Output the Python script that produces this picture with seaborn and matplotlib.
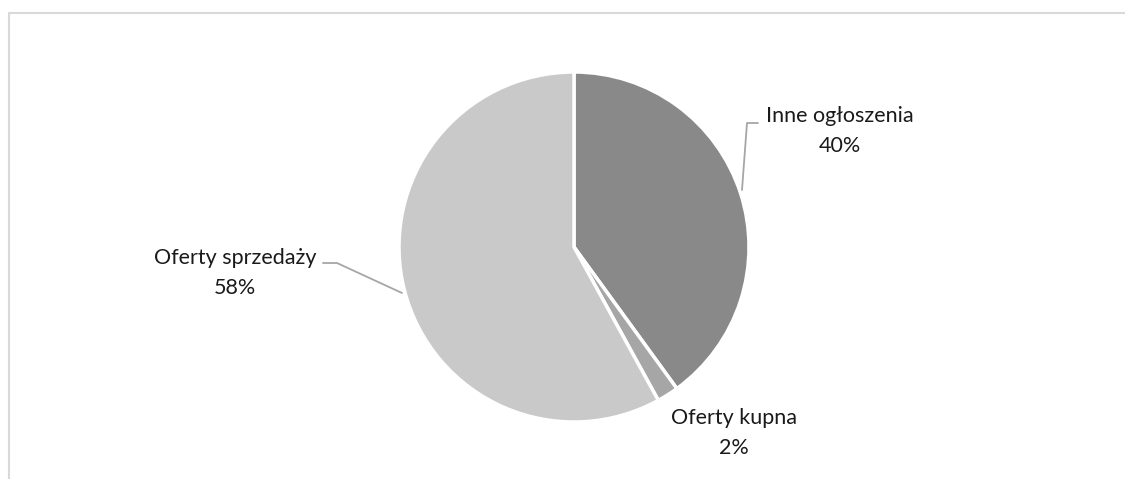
import matplotlib
matplotlib.use("Agg")
import matplotlib.pyplot as plt
from matplotlib.lines import Line2D
import seaborn as sns

categories = ["Inne ogłoszenia", "Oferty kupna", "Oferty sprzedaży"]
shares = [40, 2, 58]
colors = ["#898989", "#a6a6a6", "#c9c9c9"]

sns.set_theme(style="white")
plt.rcParams["font.family"] = ["Lato", "DejaVu Sans"]

W, H = 1125, 479
fig = plt.figure(figsize=(W / 100, H / 100), dpi=100)

# pie placement in pixels
cx, cy, r = 574, 247, 175
ax = fig.add_axes([(cx - r) / W, (H - cy - r) / H, 2 * r / W, 2 * r / H])
wedges, _ = ax.pie(shares, colors=colors, startangle=90, counterclock=False,
                   wedgeprops=dict(edgecolor="white", linewidth=2.5))
ax.set_xlim(-1, 1)
ax.set_ylim(-1, 1)
ax.set_aspect("equal")
ax.axis("off")

def to_fig(px, py):
    return px / W, 1 - py / H

txt = dict(fontsize=15.5, color="#1a1a1a", ha="center", va="center")
label_pos = [(840, 116), (734, 418), (235, 258)]
for (lx, ly), name, v in zip(label_pos, categories, shares):
    fig.text(*to_fig(lx, ly), name, **txt)
    fig.text(*to_fig(lx, ly + 30), f"{v}%", **txt)

# leader lines
lead = "#a6a6a6"
for pts in ([(742, 190), (747, 123), (758, 123)],
            [(323, 263), (337, 263), (402, 293)]):
    xs = [p[0] / W for p in pts]
    ys = [1 - p[1] / H for p in pts]
    fig.add_artist(Line2D(xs, ys, color=lead, lw=1.3, transform=fig.transFigure))

# chart area border
frame = "#d9d9d9"
fig.add_artist(Line2D([8.5 / W, 8.5 / W], [0, 1 - 12.5 / H], color=frame, lw=1.5,
                      transform=fig.transFigure))
fig.add_artist(Line2D([8.5 / W, 1], [1 - 12.5 / H, 1 - 12.5 / H], color=frame, lw=1.5,
                      transform=fig.transFigure))

fig.savefig("out.png", dpi=100)
